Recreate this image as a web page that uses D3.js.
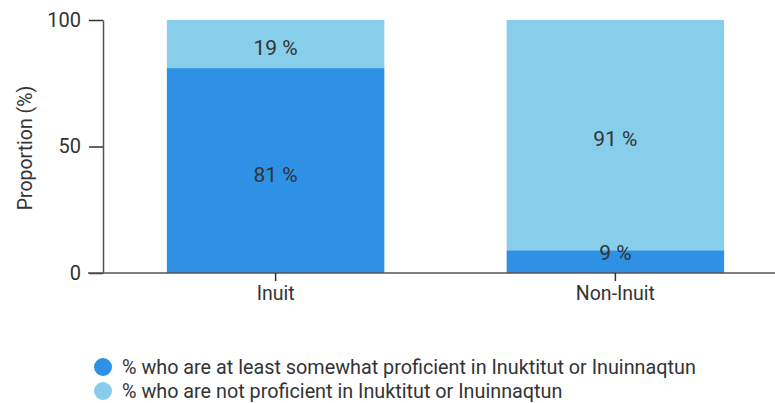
<!DOCTYPE html>
<html>
<head>
<meta charset="utf-8">
<script src="https://cdn.jsdelivr.net/npm/d3@7"></script>
<style>
    body { margin: 0; background: #fff; }
    svg text { font-family: Roboto, "Noto Sans", sans-serif; fill: #333; }
</style>
</head>
<body>
<div id="chart"></div>
<script>
// Data
const categories = ["Inuit", "Non-Inuit"];
const seriesNames = [
    "% who are at least somewhat proficient in Inuktitut or Inuinnaqtun",
    "% who are not proficient in Inuktitut or Inuinnaqtun"
];
const proficient = [81, 9];
const notProficient = [19, 91];
const yTicks = [0, 50, 100];

const colors = ["#2e91e5", "#87ceeb"];
const width = 775, height = 403;

const svg = d3.select("#chart")
    .append("svg")
    .attr("width", width)
    .attr("height", height);

// Scales
const y = d3.scaleLinear()
    .domain([0, 100])
    .range([273, 20]);

const x = d3.scaleBand()
    .domain(categories)
    .range([103, 788])
    .paddingInner(0.36)
    .paddingOuter(0.188);

// Stack data
const rows = categories.map((c, i) => ({ cat: c, a: proficient[i], b: notProficient[i] }));
const stacked = d3.stack().keys(["a", "b"])(rows);

// Bars
svg.append("g")
    .selectAll("g")
    .data(stacked)
    .join("g")
    .attr("fill", (d, i) => colors[i])
    .selectAll("rect")
    .data(d => d)
    .join("rect")
    .attr("x", d => x(d.data.cat))
    .attr("y", d => y(d[1]))
    .attr("width", x.bandwidth())
    .attr("height", d => y(d[0]) - y(d[1]));

// Value labels
svg.append("g")
    .selectAll("g")
    .data(stacked)
    .join("g")
    .selectAll("text")
    .data(d => d)
    .join("text")
    .attr("x", d => x(d.data.cat) + x.bandwidth() / 2)
    .attr("y", d => Math.min(y((d[0] + d[1]) / 2) + 4, y(0) - 20))
    .attr("dy", "0.35em")
    .attr("text-anchor", "middle")
    .style("font-size", "21px")
    .text(d => (d[1] - d[0]) + " %");

// Y axis
const yAxis = svg.append("g")
    .attr("transform", "translate(103,0)")
    .call(d3.axisLeft(y).tickValues(yTicks).tickSize(14).tickPadding(8).tickSizeOuter(0));
yAxis.select(".domain").attr("stroke", "#555").attr("stroke-width", 1.5);
yAxis.selectAll(".tick line").attr("stroke", "#333").attr("stroke-width", 1.5);
yAxis.selectAll("text").style("font-size", "20px").attr("fill", "#333");

// X axis
const xAxis = svg.append("g")
    .attr("transform", "translate(0,273)")
    .call(d3.axisBottom(x).tickSize(8).tickPadding(5).tickSizeOuter(0));
xAxis.select(".domain").attr("d", "M88,0H775").attr("stroke", "#555").attr("stroke-width", 1.5);
xAxis.selectAll(".tick line").attr("stroke", "#333").attr("stroke-width", 1.5);
xAxis.selectAll("text").style("font-size", "19.5px").attr("fill", "#333");

// Y label
svg.append("text")
    .attr("transform", "translate(25,148) rotate(-90)")
    .attr("dy", "0.35em")
    .attr("text-anchor", "middle")
    .style("font-size", "19.5px")
    .text("Proportion (%)");

// Legend
const legend = svg.append("g")
    .selectAll("g")
    .data(seriesNames)
    .join("g")
    .attr("transform", (d, i) => `translate(103,${367 + i * 24})`);

legend.append("circle")
    .attr("r", 9)
    .attr("fill", (d, i) => colors[i]);

legend.append("text")
    .attr("x", 19)
    .attr("dy", "0.35em")
    .style("font-size", "19.8px")
    .text(d => d);
</script>
</body>
</html>
